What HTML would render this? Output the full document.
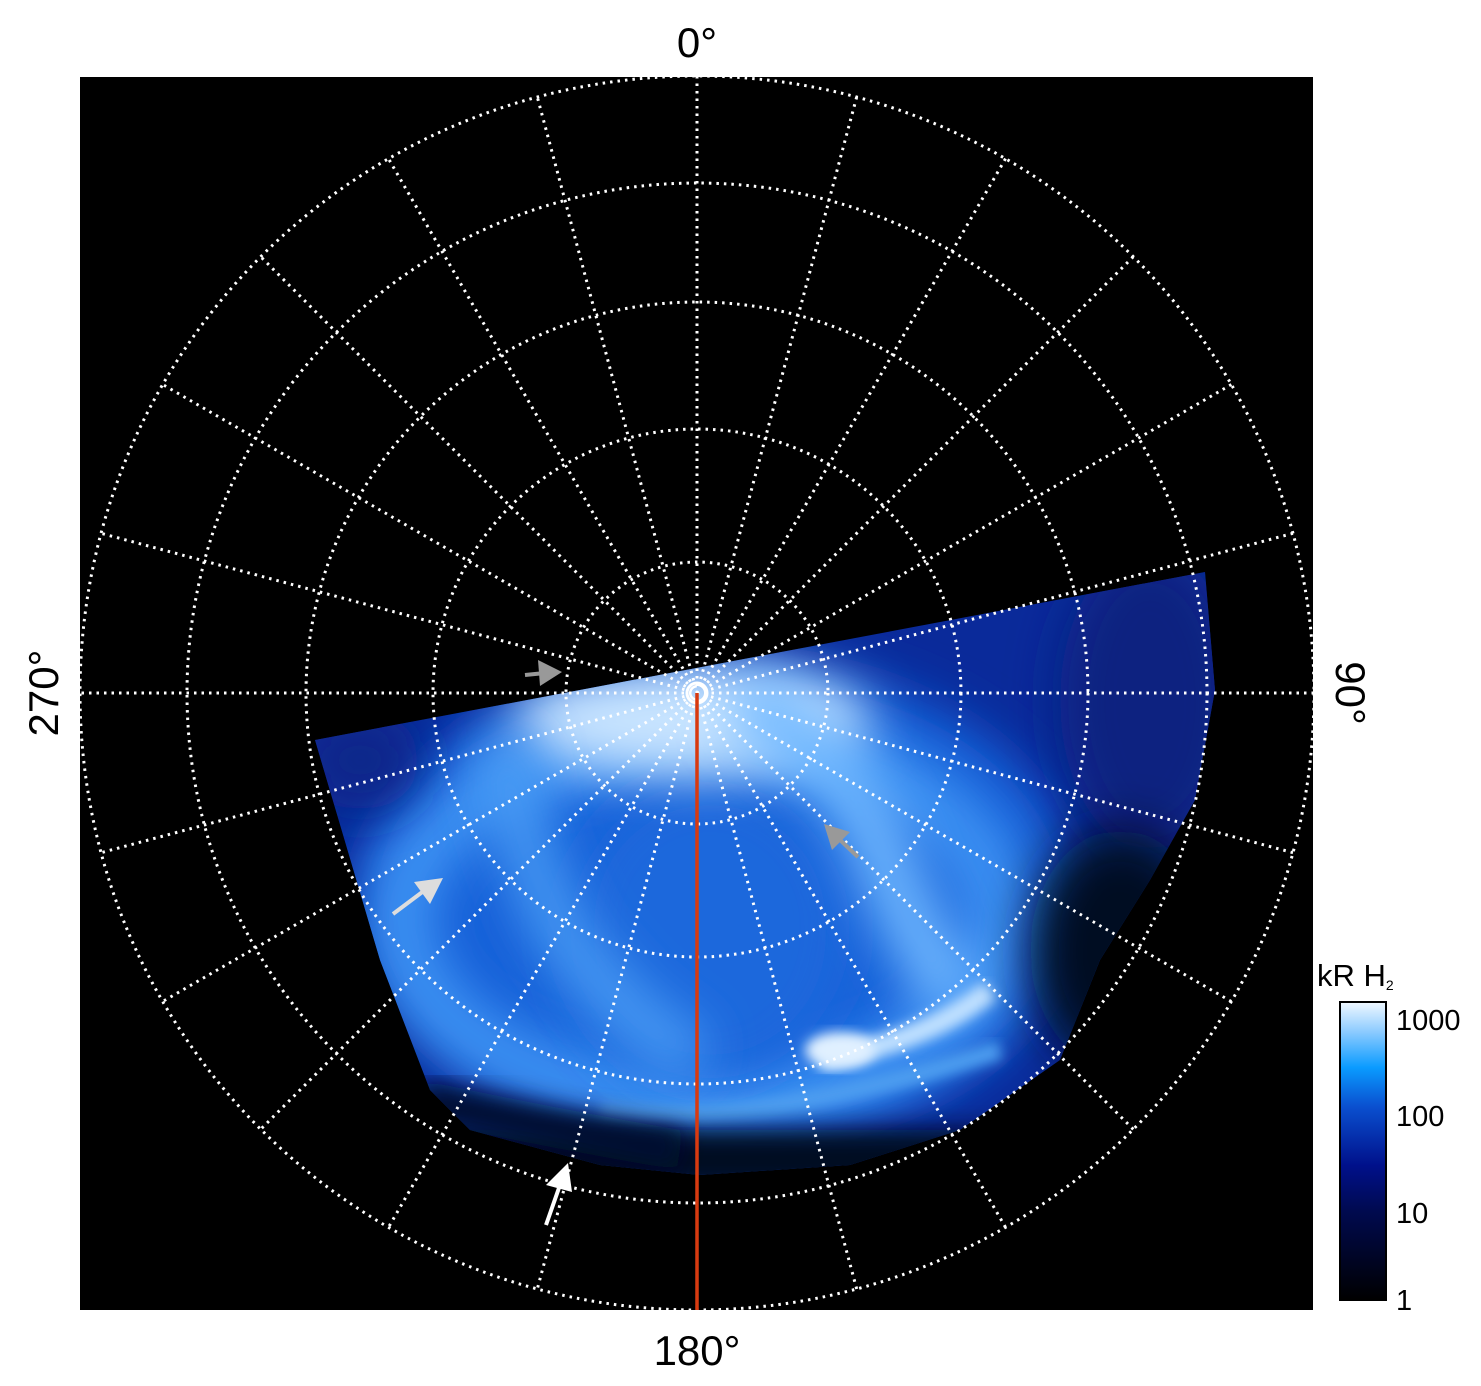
<!DOCTYPE html>
<html><head><style>
html,body{margin:0;padding:0;background:#fff;}
</style></head><body>
<svg width="1481" height="1386" xmlns="http://www.w3.org/2000/svg" style="display:block">
<defs>
<linearGradient id="cb" x1="0" y1="1" x2="0" y2="0">
<stop offset="0" stop-color="#000"/>
<stop offset="0.3" stop-color="#000a50"/>
<stop offset="0.45" stop-color="#00108a"/>
<stop offset="0.65" stop-color="#0a50d0"/>
<stop offset="0.78" stop-color="#0a9bff"/>
<stop offset="0.9" stop-color="#8ccbff"/>
<stop offset="1" stop-color="#f0f8ff"/>
</linearGradient>
<filter id="b1" x="-50%" y="-50%" width="200%" height="200%"><feGaussianBlur stdDeviation="25"/></filter>
<filter id="b2" x="-50%" y="-50%" width="200%" height="200%"><feGaussianBlur stdDeviation="12"/></filter>
<filter id="b3" x="-20%" y="-20%" width="140%" height="140%"><feGaussianBlur stdDeviation="6"/></filter>
<clipPath id="aur"><path d="M315,740 L1205,572 L1215,690 L1195,800 L1150,880 L1100,960 L1060,1060 L960,1130 L850,1165 L700,1175 L600,1165 L470,1130 L430,1090 L380,960 Z"/></clipPath>
<clipPath id="sq"><rect x="80" y="77" width="1233" height="1233"/></clipPath>
</defs>
<rect x="80" y="77" width="1233" height="1233" fill="#000"/>
<g clip-path="url(#aur)">
<rect x="300" y="560" width="930" height="620" fill="#0a2a9a"/>
<ellipse cx="720" cy="900" rx="360" ry="240" fill="#1560d8" filter="url(#b1)"/>
<ellipse cx="700" cy="920" rx="300" ry="180" fill="none" stroke="#3f95f5" stroke-width="60" filter="url(#b1)"/>
<ellipse cx="710" cy="930" rx="140" ry="150" fill="#1a68dc" filter="url(#b1)"/>
<ellipse cx="690" cy="720" rx="180" ry="55" fill="#c8e4ff" filter="url(#b1)"/>
<path d="M740,700 Q850,760 880,850 Q920,950 960,1000" fill="none" stroke="#6fb8ff" stroke-width="60" filter="url(#b1)"/>
<path d="M500,740 Q520,850 560,930 Q620,1020 700,1060" fill="none" stroke="#4a9cf5" stroke-width="50" filter="url(#b1)"/>
<path d="M820,1060 Q930,1040 990,990" fill="none" stroke="#bfe0ff" stroke-width="22" filter="url(#b3)"/>
<ellipse cx="840" cy="1050" rx="35" ry="18" fill="#e0f0ff" filter="url(#b3)"/>
<path d="M600,1110 Q750,1130 1000,1050" fill="none" stroke="#4d9ef0" stroke-width="18" filter="url(#b3)"/>
<rect x="300" y="1130" width="930" height="60" fill="#000820" filter="url(#b2)"/>
<path d="M420,1100 Q560,1130 680,1150" fill="none" stroke="#000a30" stroke-width="40" filter="url(#b2)"/>
<ellipse cx="1150" cy="700" rx="90" ry="150" fill="#0a2280" filter="url(#b1)"/>
<ellipse cx="1120" cy="950" rx="90" ry="120" fill="#000820" filter="url(#b1)"/>
<ellipse cx="360" cy="760" rx="60" ry="50" fill="#0a258a" filter="url(#b1)"/>
</g>
<g clip-path="url(#sq)" fill="none" stroke="#fff" stroke-width="3" stroke-dasharray="2.5 5">
<circle cx="697" cy="693" r="131"/>
<circle cx="697" cy="693" r="264"/>
<circle cx="697" cy="693" r="391"/>
<circle cx="697" cy="693" r="510"/>
<circle cx="697" cy="693" r="617"/>
<g transform="translate(697 693)">
<line x1="0" y1="-617" x2="0" y2="617"/>
<line x1="0" y1="-617" x2="0" y2="617" transform="rotate(15)"/>
<line x1="0" y1="-617" x2="0" y2="617" transform="rotate(30)"/>
<line x1="0" y1="-617" x2="0" y2="617" transform="rotate(45)"/>
<line x1="0" y1="-617" x2="0" y2="617" transform="rotate(60)"/>
<line x1="0" y1="-617" x2="0" y2="617" transform="rotate(75)"/>
<line x1="0" y1="-617" x2="0" y2="617" transform="rotate(90)"/>
<line x1="0" y1="-617" x2="0" y2="617" transform="rotate(105)"/>
<line x1="0" y1="-617" x2="0" y2="617" transform="rotate(120)"/>
<line x1="0" y1="-617" x2="0" y2="617" transform="rotate(135)"/>
<line x1="0" y1="-617" x2="0" y2="617" transform="rotate(150)"/>
<line x1="0" y1="-617" x2="0" y2="617" transform="rotate(165)"/>
</g>
</g>
<circle cx="697" cy="693" r="10" fill="none" stroke="#fff" stroke-width="3"/>
<line x1="697" y1="693" x2="697" y2="1310" stroke="#d83a10" stroke-width="3.5"/>
<g stroke-width="4">
<line x1="525" y1="675" x2="545" y2="673" stroke="#999"/><polygon points="562,672 538,660 540,686" fill="#999"/>
<line x1="858" y1="857" x2="838" y2="838" stroke="#999"/><polygon points="824,824 832,850 850,832" fill="#999"/>
<line x1="393" y1="914" x2="425" y2="890" stroke="#ddd"/><polygon points="443,878 414,882 430,904" fill="#ddd"/>
<line x1="546" y1="1225" x2="560" y2="1185" stroke="#fff"/><polygon points="568,1163 546,1185 572,1192" fill="#fff"/>
</g>
<rect x="1340" y="1002" width="46" height="298" fill="url(#cb)" stroke="#000" stroke-width="2"/>
<g font-family="Liberation Sans, sans-serif" fill="#000">
<text x="697" y="57" font-size="42" text-anchor="middle">0°</text>
<text x="697" y="1365" font-size="42" text-anchor="middle">180°</text>
<text transform="translate(58 693) rotate(-90)" font-size="42" text-anchor="middle">270°</text>
<text transform="translate(1336 693) rotate(90)" font-size="42" text-anchor="middle">90°</text>
<text x="1317" y="986" font-size="31">kR H<tspan font-size="14" dy="4">2</tspan></text>
<text x="1396" y="1030" font-size="29">1000</text>
<text x="1396" y="1126" font-size="29">100</text>
<text x="1396" y="1223" font-size="29">10</text>
<text x="1396" y="1310" font-size="29">1</text>
</g>
</svg>
</body></html>
